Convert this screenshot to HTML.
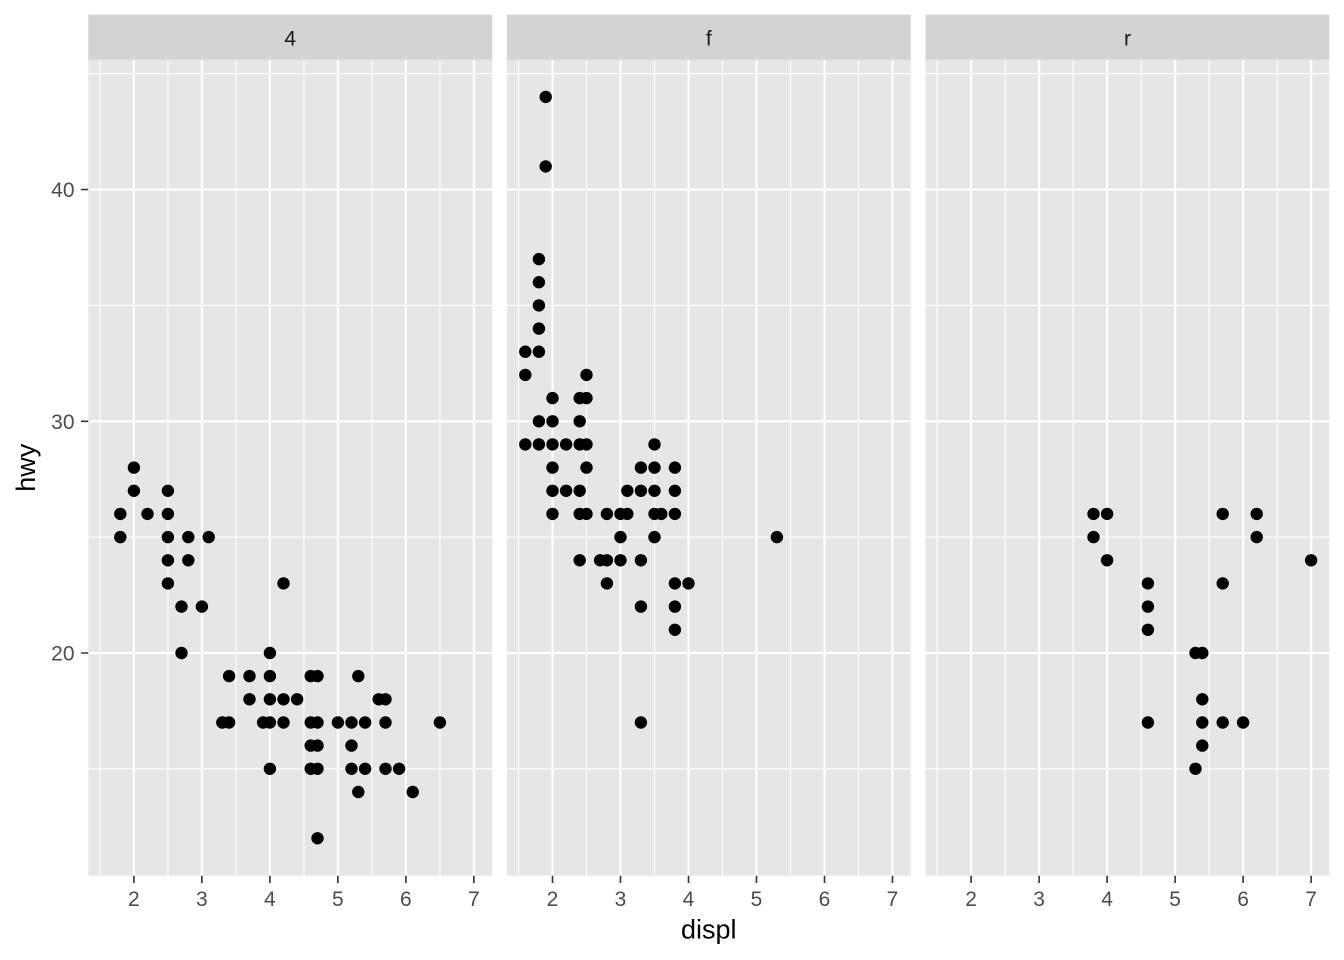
<!DOCTYPE html>
<html>
<head>
<meta charset="utf-8">
<style>
  html,body{margin:0;padding:0;background:#fff;}
  svg{display:block;}
  text{font-family:"Liberation Sans", Arial, sans-serif;}
</style>
</head>
<body>
<svg width="1344" height="960" viewBox="0 0 1344 960" xmlns="http://www.w3.org/2000/svg">
  <rect width="1344" height="960" fill="#ffffff"/>
  <defs>
    <g id="pbg">
      <rect x="88.3" y="59.8" width="403.9" height="815.9" fill="#E6E6E6"/>
      <rect x="88.3" y="14.7" width="403.9" height="45.1" fill="#D3D3D3"/>
      <path stroke="#ffffff" stroke-width="1.1" fill="none"
        d="M99.9 59.8V875.7M167.9 59.8V875.7M235.9 59.8V875.7M303.9 59.8V875.7M371.9 59.8V875.7M439.9 59.8V875.7
           M88.3 768.8H492.2M88.3 537.1H492.2M88.3 305.4H492.2M88.3 73.7H492.2"/>
      <path stroke="#ffffff" stroke-width="2.2" fill="none"
        d="M133.9 59.8V875.7M201.9 59.8V875.7M269.9 59.8V875.7M337.9 59.8V875.7M405.9 59.8V875.7M473.9 59.8V875.7
           M88.3 653H492.2M88.3 421.3H492.2M88.3 189.5H492.2"/>
      <path stroke="#333333" stroke-width="1.6" fill="none"
        d="M133.9 875.7V883M201.9 875.7V883M269.9 875.7V883M337.9 875.7V883M405.9 875.7V883M473.9 875.7V883"/>
    </g>
  </defs>

  <!-- Panel backgrounds -->
  <use href="#pbg"/>
  <use href="#pbg" transform="translate(418.6,0)"/>
  <use href="#pbg" transform="translate(837.2,0)"/>

  <!-- Y ticks -->
  <path stroke="#333333" stroke-width="1.6" fill="none" d="M81 189.5H88.3M81 421.3H88.3M81 653H88.3"/>
  <g font-size="21" fill="#4D4D4D" text-anchor="end">
    <text x="74.5" y="197">40</text>
    <text x="74.5" y="428.8">30</text>
    <text x="74.5" y="660.5">20</text>
  </g>

  <!-- Strip labels -->
  <g font-size="21" fill="#1A1A1A" text-anchor="middle">
    <text x="290.25" y="45.5">4</text>
    <text x="708.85" y="45.5">f</text>
    <text x="1127.45" y="45.5">r</text>
  </g>

  <!-- X tick labels -->
  <g font-size="21" fill="#4D4D4D" text-anchor="middle">
    <g>
      <text x="133.9" y="906">2</text><text x="201.9" y="906">3</text><text x="269.9" y="906">4</text>
      <text x="337.9" y="906">5</text><text x="405.9" y="906">6</text><text x="473.9" y="906">7</text>
    </g>
    <g transform="translate(418.6,0)">
      <text x="133.9" y="906">2</text><text x="201.9" y="906">3</text><text x="269.9" y="906">4</text>
      <text x="337.9" y="906">5</text><text x="405.9" y="906">6</text><text x="473.9" y="906">7</text>
    </g>
    <g transform="translate(837.2,0)">
      <text x="133.9" y="906">2</text><text x="201.9" y="906">3</text><text x="269.9" y="906">4</text>
      <text x="337.9" y="906">5</text><text x="405.9" y="906">6</text><text x="473.9" y="906">7</text>
    </g>
  </g>

  <!-- Axis titles -->
  <text x="708.8" y="938.5" font-size="27" fill="#000" text-anchor="middle">displ</text>
  <text transform="translate(35,467.75) rotate(-90)" font-size="27" fill="#000" text-anchor="middle">hwy</text>

  <!-- Panel 1: drv = 4 -->
  <g fill="#000">
    <circle cx="133.9" cy="467.6" r="6.2"/><circle cx="133.9" cy="490.8" r="6.2"/><circle cx="167.9" cy="490.8" r="6.2"/>
    <circle cx="120.3" cy="513.9" r="6.2"/><circle cx="147.5" cy="513.9" r="6.2"/><circle cx="167.9" cy="513.9" r="6.2"/>
    <circle cx="120.3" cy="537.1" r="6.2"/><circle cx="167.9" cy="537.1" r="6.2"/><circle cx="188.3" cy="537.1" r="6.2"/><circle cx="208.7" cy="537.1" r="6.2"/>
    <circle cx="167.9" cy="560.3" r="6.2"/><circle cx="188.3" cy="560.3" r="6.2"/>
    <circle cx="167.9" cy="583.4" r="6.2"/><circle cx="283.5" cy="583.4" r="6.2"/>
    <circle cx="181.5" cy="606.6" r="6.2"/><circle cx="201.9" cy="606.6" r="6.2"/>
    <circle cx="181.5" cy="653.0" r="6.2"/><circle cx="269.9" cy="653.0" r="6.2"/>
    <circle cx="229.1" cy="676.1" r="6.2"/><circle cx="249.5" cy="676.1" r="6.2"/><circle cx="269.9" cy="676.1" r="6.2"/><circle cx="310.7" cy="676.1" r="6.2"/><circle cx="317.5" cy="676.1" r="6.2"/><circle cx="358.3" cy="676.1" r="6.2"/>
    <circle cx="249.5" cy="699.3" r="6.2"/><circle cx="269.9" cy="699.3" r="6.2"/><circle cx="283.5" cy="699.3" r="6.2"/><circle cx="297.1" cy="699.3" r="6.2"/><circle cx="378.7" cy="699.3" r="6.2"/><circle cx="385.5" cy="699.3" r="6.2"/>
    <circle cx="222.3" cy="722.5" r="6.2"/><circle cx="229.1" cy="722.5" r="6.2"/><circle cx="263.1" cy="722.5" r="6.2"/><circle cx="269.9" cy="722.5" r="6.2"/><circle cx="283.5" cy="722.5" r="6.2"/><circle cx="310.7" cy="722.5" r="6.2"/>
    <circle cx="317.5" cy="722.5" r="6.2"/><circle cx="337.9" cy="722.5" r="6.2"/><circle cx="351.5" cy="722.5" r="6.2"/><circle cx="365.1" cy="722.5" r="6.2"/><circle cx="385.5" cy="722.5" r="6.2"/><circle cx="439.9" cy="722.5" r="6.2"/>
    <circle cx="310.7" cy="745.6" r="6.2"/><circle cx="317.5" cy="745.6" r="6.2"/><circle cx="351.5" cy="745.6" r="6.2"/>
    <circle cx="269.9" cy="768.8" r="6.2"/><circle cx="310.7" cy="768.8" r="6.2"/><circle cx="317.5" cy="768.8" r="6.2"/><circle cx="351.5" cy="768.8" r="6.2"/><circle cx="365.1" cy="768.8" r="6.2"/><circle cx="385.5" cy="768.8" r="6.2"/><circle cx="399.1" cy="768.8" r="6.2"/>
    <circle cx="358.3" cy="792.0" r="6.2"/><circle cx="412.7" cy="792.0" r="6.2"/>
    <circle cx="317.5" cy="838.3" r="6.2"/>
  </g>

  <!-- Panel 2: drv = f -->
  <g fill="#000" transform="translate(418.6,0)">
    <circle cx="127.1" cy="96.9" r="6.2"/><circle cx="127.1" cy="166.4" r="6.2"/>
    <circle cx="120.3" cy="259.1" r="6.2"/><circle cx="120.3" cy="282.2" r="6.2"/><circle cx="120.3" cy="305.4" r="6.2"/><circle cx="120.3" cy="328.6" r="6.2"/>
    <circle cx="120.3" cy="351.7" r="6.2"/><circle cx="106.7" cy="351.7" r="6.2"/>
    <circle cx="106.7" cy="374.9" r="6.2"/><circle cx="167.9" cy="374.9" r="6.2"/>
    <circle cx="133.9" cy="398.1" r="6.2"/><circle cx="161.1" cy="398.1" r="6.2"/><circle cx="167.9" cy="398.1" r="6.2"/>
    <circle cx="120.3" cy="421.3" r="6.2"/><circle cx="133.9" cy="421.3" r="6.2"/><circle cx="161.1" cy="421.3" r="6.2"/>
    <circle cx="106.7" cy="444.4" r="6.2"/><circle cx="120.3" cy="444.4" r="6.2"/><circle cx="133.9" cy="444.4" r="6.2"/><circle cx="147.5" cy="444.4" r="6.2"/><circle cx="161.1" cy="444.4" r="6.2"/><circle cx="167.9" cy="444.4" r="6.2"/><circle cx="235.9" cy="444.4" r="6.2"/>
    <circle cx="133.9" cy="467.6" r="6.2"/><circle cx="167.9" cy="467.6" r="6.2"/><circle cx="222.3" cy="467.6" r="6.2"/><circle cx="235.9" cy="467.6" r="6.2"/><circle cx="256.3" cy="467.6" r="6.2"/>
    <circle cx="133.9" cy="490.8" r="6.2"/><circle cx="147.5" cy="490.8" r="6.2"/><circle cx="161.1" cy="490.8" r="6.2"/><circle cx="208.7" cy="490.8" r="6.2"/><circle cx="222.3" cy="490.8" r="6.2"/><circle cx="235.9" cy="490.8" r="6.2"/><circle cx="256.3" cy="490.8" r="6.2"/>
    <circle cx="133.9" cy="513.9" r="6.2"/><circle cx="161.1" cy="513.9" r="6.2"/><circle cx="167.9" cy="513.9" r="6.2"/><circle cx="188.3" cy="513.9" r="6.2"/><circle cx="201.9" cy="513.9" r="6.2"/><circle cx="208.7" cy="513.9" r="6.2"/><circle cx="235.9" cy="513.9" r="6.2"/><circle cx="242.7" cy="513.9" r="6.2"/><circle cx="256.3" cy="513.9" r="6.2"/>
    <circle cx="201.9" cy="537.1" r="6.2"/><circle cx="235.9" cy="537.1" r="6.2"/><circle cx="358.3" cy="537.1" r="6.2"/>
    <circle cx="161.1" cy="560.3" r="6.2"/><circle cx="181.5" cy="560.3" r="6.2"/><circle cx="188.3" cy="560.3" r="6.2"/><circle cx="201.9" cy="560.3" r="6.2"/><circle cx="222.3" cy="560.3" r="6.2"/>
    <circle cx="188.3" cy="583.4" r="6.2"/><circle cx="256.3" cy="583.4" r="6.2"/><circle cx="269.9" cy="583.4" r="6.2"/>
    <circle cx="222.3" cy="606.6" r="6.2"/><circle cx="256.3" cy="606.6" r="6.2"/>
    <circle cx="256.3" cy="629.8" r="6.2"/>
    <circle cx="222.3" cy="722.5" r="6.2"/>
  </g>

  <!-- Panel 3: drv = r -->
  <g fill="#000" transform="translate(837.2,0)">
    <circle cx="256.3" cy="513.9" r="6.2"/><circle cx="269.9" cy="513.9" r="6.2"/><circle cx="385.5" cy="513.9" r="6.2"/><circle cx="419.5" cy="513.9" r="6.2"/>
    <circle cx="256.3" cy="537.1" r="6.2"/><circle cx="419.5" cy="537.1" r="6.2"/>
    <circle cx="269.9" cy="560.3" r="6.2"/><circle cx="473.9" cy="560.3" r="6.2"/>
    <circle cx="310.7" cy="583.4" r="6.2"/><circle cx="385.5" cy="583.4" r="6.2"/>
    <circle cx="310.7" cy="606.6" r="6.2"/>
    <circle cx="310.7" cy="629.8" r="6.2"/>
    <circle cx="358.3" cy="653.0" r="6.2"/><circle cx="365.1" cy="653.0" r="6.2"/>
    <circle cx="365.1" cy="699.3" r="6.2"/>
    <circle cx="310.7" cy="722.5" r="6.2"/><circle cx="365.1" cy="722.5" r="6.2"/><circle cx="385.5" cy="722.5" r="6.2"/><circle cx="405.9" cy="722.5" r="6.2"/>
    <circle cx="365.1" cy="745.6" r="6.2"/>
    <circle cx="358.3" cy="768.8" r="6.2"/>
  </g>
</svg>
</body>
</html>
